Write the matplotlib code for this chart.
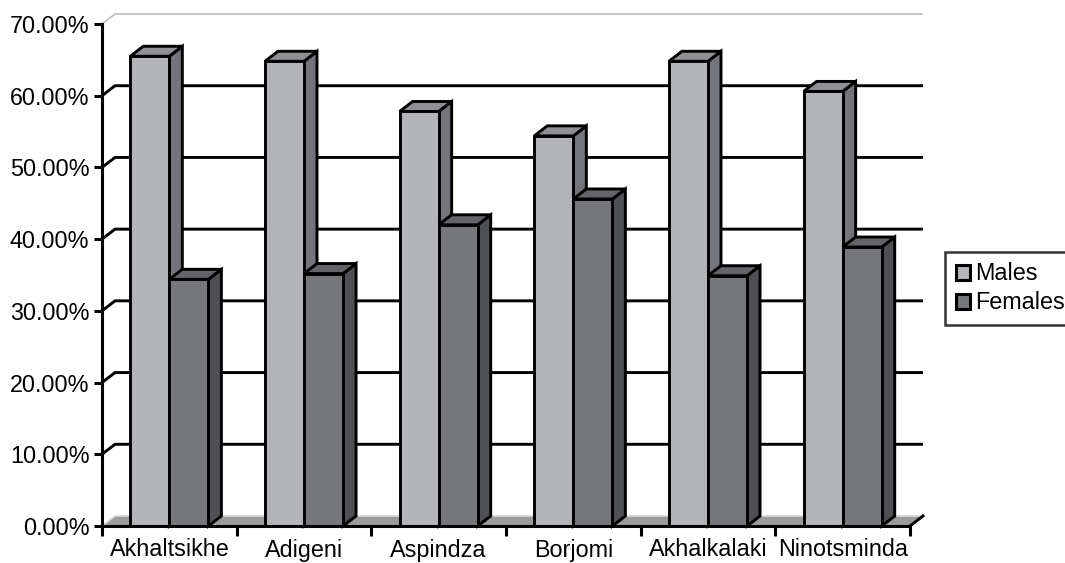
import matplotlib.pyplot as plt
import numpy as np
from matplotlib.patches import Polygon, Patch

plt.rcParams['font.family'] = ['Liberation Sans', 'DejaVu Sans']

# data
districts = ['Akhaltsikhe', 'Adigeni', 'Aspindza', 'Borjomi', 'Akhalkalaki', 'Ninotsminda']
males = [65.5, 64.8, 57.8, 54.4, 64.8, 60.6]
females = [34.4, 35.2, 42.0, 45.6, 34.9, 38.9]
series_names = ['Males', 'Females']
y_ticks = [0, 10, 20, 30, 40, 50, 60, 70]

# colours (front, side, top)
male_cols = ('#b3b4b8', '#74757a', '#8f9094')
female_cols = ('#76777b', '#4f5053', '#646568')

W, H = 1065, 563
fig = plt.figure(figsize=(W / 100, H / 100), dpi=100)
ax = fig.add_axes([102 / W, (H - 526) / H, 808 / W, 502 / H])
ax.set_xlim(0, len(districts))
ax.set_ylim(0, 70)

# fake 3d depth, in data units
dx = 13 / (808 / 6)
dy = 10 / (502 / 70)
lw = 2.1
n = len(districts)

# floor
floor = Polygon([(0, 0), (n, 0), (n + dx, dy), (dx, dy)], closed=True,
                facecolor='#9b9b9b', edgecolor='#d8d8d8', lw=1.2, clip_on=False, zorder=1)
ax.add_patch(floor)
ax.plot([n, n + dx], [0, dy], color='black', lw=lw, clip_on=False, zorder=1)

# back wall gridlines
for v in y_ticks[1:]:
    c = 'black' if v < 70 else '#bdbdbd'
    w = lw if v < 70 else 1.2
    ax.plot([0, dx, n + dx], [v, v + dy, v + dy], color=c, lw=w,
            clip_on=False, zorder=1, solid_capstyle='butt')


def bar3d(xc, h, width, cols, z):
    x0, x1 = xc - width / 2, xc + width / 2
    side = Polygon([(x1, 0), (x1 + dx, dy), (x1 + dx, h + dy), (x1, h)],
                   facecolor=cols[1], edgecolor='black', lw=lw, clip_on=False,
                   zorder=z, joinstyle='miter')
    top = Polygon([(x0, h), (x1, h), (x1 + dx, h + dy), (x0 + dx, h + dy)],
                  facecolor=cols[2], edgecolor='black', lw=lw, clip_on=False,
                  zorder=z, joinstyle='miter')
    ax.add_patch(side)
    ax.add_patch(top)
    ax.bar(xc, h, width=width, color=cols[0], edgecolor='black', lw=lw,
           zorder=z + 0.5, clip_on=False)


bw = 0.29
x = np.arange(n) + 0.5
for i in range(n):
    bar3d(x[i] - 0.145, males[i], bw, male_cols, 3)
    bar3d(x[i] + 0.145, females[i], bw, female_cols, 4)

# axes
for s in ['top', 'right']:
    ax.spines[s].set_visible(False)
for s in ['left', 'bottom']:
    ax.spines[s].set_linewidth(2.2)
    ax.spines[s].set_zorder(6)

ax.set_yticks(y_ticks)
ax.set_yticklabels(['%.2f%%' % v for v in y_ticks])
ax.tick_params(axis='y', length=6, width=2.2, pad=3, labelsize=16.8)

ax.set_xticks(np.arange(n + 1))
ax.set_xticklabels([])
ax.tick_params(axis='x', which='major', length=7, width=2.2, direction='out')
ax.set_xticks(x, minor=True)
ax.set_xticklabels(districts, minor=True)
ax.tick_params(axis='x', which='minor', length=0, pad=9, labelsize=16.8)

handles = [Patch(facecolor=male_cols[0], edgecolor='black', lw=2.2),
           Patch(facecolor=female_cols[0], edgecolor='black', lw=2.2)]
leg = fig.legend(handles, series_names, loc='upper left',
                 bbox_to_anchor=(945 / W, 1 - 252 / H), fontsize=16.8,
                 frameon=True, fancybox=False, edgecolor='black',
                 handlelength=0.6, handleheight=0.6, handletextpad=0.25,
                 labelspacing=0.25, borderpad=0.45, borderaxespad=0)
leg.get_frame().set_linewidth(1.8)

fig.savefig('out.png', dpi=100)
